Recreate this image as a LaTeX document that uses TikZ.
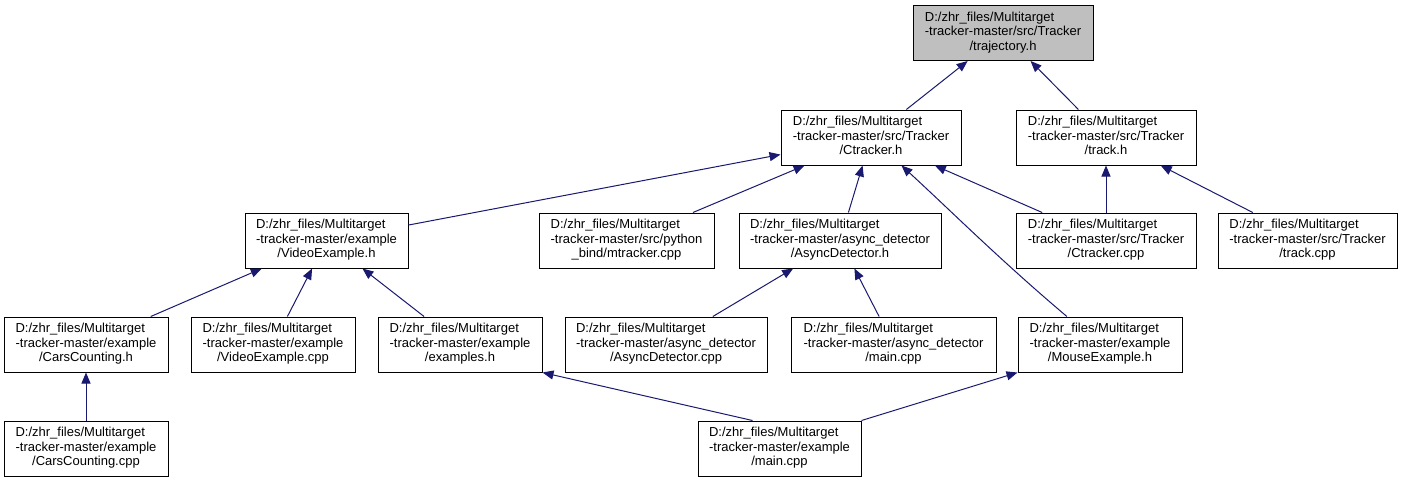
\documentclass[tikz,border=0pt]{standalone}
\usepackage{fontspec}
\setmainfont{Liberation Sans}
\usetikzlibrary{arrows.meta}
\definecolor{edgeblue}{HTML}{191970}
\newcommand{\flbl}[3]{\begin{tabular}{@{}l@{}}#1\\#2\\\multicolumn{1}{@{}c@{}}{#3}\end{tabular}}

\begin{document}
\begin{tikzpicture}[x=1pt, y=-1pt, font=\fontsize{13}{14.5}\selectfont,
  file/.style={draw, line width=1pt, minimum height=55pt, inner sep=0pt},
  edge/.style={draw=edgeblue, line width=1pt, {Triangle[length=11pt,width=9pt,fill=edgeblue]}-}]
\useasboundingbox (0,0) rectangle (1403,483);
% top level
\node[file, fill=black!25, minimum width=180pt] (traj) at (1003,33)
  {\flbl{D:/zhr\_files/Multitarget}{-tracker-master/src/Tracker}{/trajectory.h}};
\node[file, minimum width=180pt] (ctrh) at (871,137.5)
  {\flbl{D:/zhr\_files/Multitarget}{-tracker-master/src/Tracker}{/Ctracker.h}};
\node[file, minimum width=180pt] (trackh) at (1106,137.5)
  {\flbl{D:/zhr\_files/Multitarget}{-tracker-master/src/Tracker}{/track.h}};
% second row
\node[file, minimum width=163pt] (videoh) at (326.5,240.5)
  {\flbl{D:/zhr\_files/Multitarget}{-tracker-master/example}{/VideoExample.h}};
\node[file, minimum width=175pt] (mtrk) at (626.5,240.5)
  {\flbl{D:/zhr\_files/Multitarget}{-tracker-master/src/python}{\_bind/mtracker.cpp}};
\node[file, minimum width=202pt] (asynch) at (840,240.5)
  {\flbl{D:/zhr\_files/Multitarget}{-tracker-master/async\_detector}{/AsyncDetector.h}};
\node[file, minimum width=180pt] (ctrcpp) at (1106,240.5)
  {\flbl{D:/zhr\_files/Multitarget}{-tracker-master/src/Tracker}{/Ctracker.cpp}};
\node[file, minimum width=179pt] (trackcpp) at (1307.5,240.5)
  {\flbl{D:/zhr\_files/Multitarget}{-tracker-master/src/Tracker}{/track.cpp}};
% third row
\node[file, minimum width=164pt] (carsh) at (86,344.5)
  {\flbl{D:/zhr\_files/Multitarget}{-tracker-master/example}{/CarsCounting.h}};
\node[file, minimum width=164pt] (videocpp) at (273,344.5)
  {\flbl{D:/zhr\_files/Multitarget}{-tracker-master/example}{/VideoExample.cpp}};
\node[file, minimum width=164pt] (exh) at (460,344.5)
  {\flbl{D:/zhr\_files/Multitarget}{-tracker-master/example}{/examples.h}};
\node[file, minimum width=202pt] (asynccpp) at (666,344.5)
  {\flbl{D:/zhr\_files/Multitarget}{-tracker-master/async\_detector}{/AsyncDetector.cpp}};
\node[file, minimum width=205pt] (amain) at (893.5,344.5)
  {\flbl{D:/zhr\_files/Multitarget}{-tracker-master/async\_detector}{/main.cpp}};
\node[file, minimum width=164pt] (mouseh) at (1100,344.5)
  {\flbl{D:/zhr\_files/Multitarget}{-tracker-master/example}{/MouseExample.h}};
% bottom row
\node[file, minimum width=164pt] (carscpp) at (86,448.5)
  {\flbl{D:/zhr\_files/Multitarget}{-tracker-master/example}{/CarsCounting.cpp}};
\node[file, minimum width=163pt] (emain) at (779.5,448.5)
  {\flbl{D:/zhr\_files/Multitarget}{-tracker-master/example}{/main.cpp}};
% includes
\draw[edge] (traj) -- (ctrh);
\draw[edge] (traj) -- (trackh);
\draw[edge] (ctrh) -- (videoh);
\draw[edge] (ctrh) -- (mtrk);
\draw[edge] (ctrh) -- (asynch);
\draw[edge] (ctrh) -- (ctrcpp);
\draw[edge] (ctrh) .. controls (950,210) and (1000,260) .. (mouseh);
\draw[edge] (trackh) -- (ctrcpp);
\draw[edge] (trackh) -- (trackcpp);
\draw[edge] (videoh) -- (carsh);
\draw[edge] (videoh) -- (videocpp);
\draw[edge] (videoh) -- (exh);
\draw[edge] (asynch) -- (asynccpp);
\draw[edge] (asynch) -- (amain);
\draw[edge] (carsh) -- (carscpp);
\draw[edge] (exh.south east) -- ([xshift=-27pt]emain.north);
\draw[edge] (mouseh.south west) -- (emain.north east);
\end{tikzpicture}
\end{document}
